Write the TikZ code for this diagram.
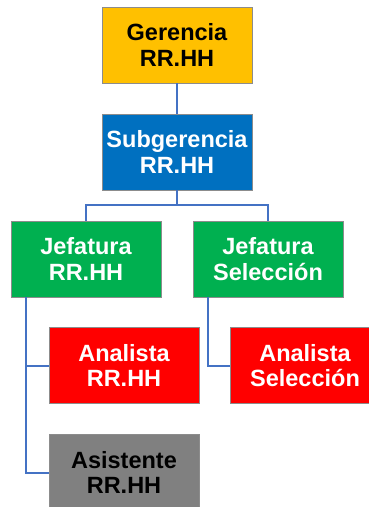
\documentclass[tikz,border=0pt]{standalone}
\usepackage{fontspec}
\setmainfont{Liberation Sans}
\definecolor{cgold}{HTML}{FFC000}
\definecolor{cblue}{HTML}{0070C0}
\definecolor{cgreen}{HTML}{00B050}
\definecolor{cred}{HTML}{FF0000}
\definecolor{cgray}{HTML}{808080}
\definecolor{cline}{HTML}{4472C4}
\definecolor{cedge}{HTML}{8C8C8C}
\begin{document}
\begin{tikzpicture}[x=1pt,y=-1pt,
  orgbox/.style={draw=cedge,line width=0.8pt,minimum width=150pt,minimum height=76pt,
    inner sep=0pt,align=center,font=\fontsize{23.5}{25.5}\selectfont\bfseries},
  link/.style={draw=cline,line width=2pt}]
\useasboundingbox (0,0) rectangle (369,507);
\clip (0,0) rectangle (369,507);
\node[orgbox,fill=cgold,text=black] (ger) at (177,45) {Gerencia\\RR.HH};
\node[orgbox,fill=cblue,text=white] (sub) at (177,152) {Subgerencia\\RR.HH};
\node[orgbox,fill=cgreen,text=white] (jrh) at (86,259) {Jefatura\\RR.HH};
\node[orgbox,fill=cgreen,text=white] (jsel) at (268,259) {Jefatura\\Selección};
\node[orgbox,fill=cred,text=white] (arh) at (124,365.5) {Analista\\RR.HH};
\node[orgbox,fill=cred,text=white] (asel) at (305,365.5) {Analista\\Selección};
\node[orgbox,fill=cgray,text=black] (asis) at (124,472.5) {Asistente\\RR.HH};
\coordinate (split) at (177,205);
\coordinate (jrhdrop) at (26,297);
\coordinate (jseldrop) at (208,297);
\draw[link] (ger) -- (sub);
\draw[link] (sub) -- (split) -| (jrh);
\draw[link] (split) -| (jsel);
\draw[link] (jrhdrop) |- (arh.west);
\draw[link] (jrhdrop) |- (asis.west);
\draw[link] (jseldrop) |- (asel.west);
\end{tikzpicture}
\end{document}
